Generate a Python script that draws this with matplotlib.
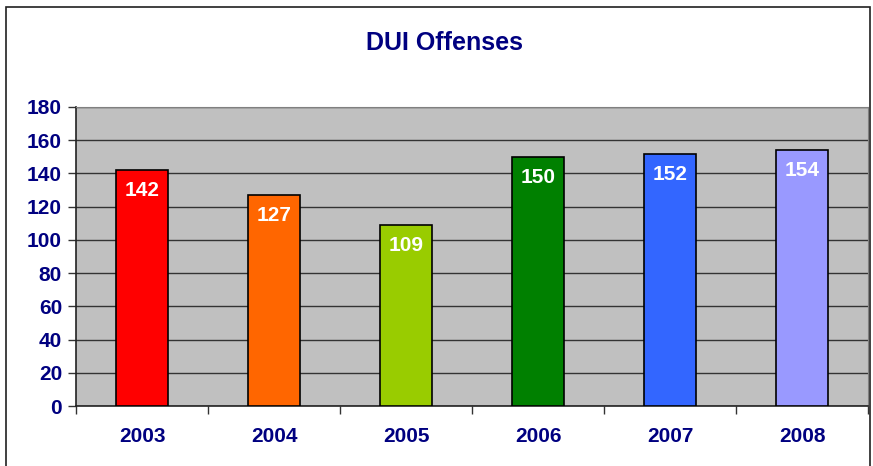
import matplotlib
matplotlib.use("Agg")
import matplotlib.pyplot as plt
from matplotlib.patches import Rectangle

years = ["2003", "2004", "2005", "2006", "2007", "2008"]
offenses = [142, 127, 109, 150, 152, 154]
colors = ["#FF0000", "#FF6600", "#99CC00", "#008000", "#3366FF", "#9999FF"]
yticks = [0, 20, 40, 60, 80, 100, 120, 140, 160, 180]

W, H = 873, 466
fig = plt.figure(figsize=(W / 100, H / 100), dpi=100)
fig.patch.set_facecolor("white")
plt.rcParams["font.family"] = ["Liberation Sans", "DejaVu Sans"]

# outer chart border
fig.add_artist(Rectangle((6 / W, -0.1), (870 - 6) / W, 1.1 - 7 / H,
                         transform=fig.transFigure, fill=False,
                         edgecolor="#202020", linewidth=1.2))

left, right, top, bottom = 76, 868, 107, 406
ax = fig.add_axes([left / W, 1 - bottom / H, (right - left) / W, (bottom - top) / H])
ax.set_facecolor("#C0C0C0")

x = list(range(len(years)))
ax.bar(x, offenses, width=0.4, color=colors, edgecolor="black", linewidth=1.2, zorder=3)
for xi, v in zip(x, offenses):
    ax.text(xi, v - 12.5, str(v), ha="center", va="center", color="white",
            fontsize=15, fontweight="bold", zorder=4)

ax.set_xlim(-0.5, len(years) - 0.5)
ax.set_ylim(0, 180)
ax.set_yticks(yticks)
ax.set_yticklabels([str(t) for t in yticks])
ax.yaxis.grid(True, color="#333333", linewidth=1.0, zorder=1)
ax.set_axisbelow(True)

ax.set_xticks([i - 0.5 for i in range(len(years) + 1)], minor=False)
ax.set_xticklabels([])
ax.set_xticks(x, minor=True)
ax.set_xticklabels(years, minor=True)
ax.tick_params(axis="x", which="major", direction="out", length=6, width=1, color="#333333")
ax.tick_params(axis="x", which="minor", length=0, pad=15,
               labelsize=15, labelcolor="#000080")
ax.tick_params(axis="y", direction="out", length=6, width=1, color="#333333",
               labelsize=15, labelcolor="#000080", pad=4)
for lab in ax.get_yticklabels() + ax.get_xticklabels(minor=True):
    lab.set_fontweight("bold")

ax.spines["left"].set_color("#222222")
ax.spines["bottom"].set_color("#222222")
ax.spines["left"].set_linewidth(1.2)
ax.spines["bottom"].set_linewidth(1.2)
ax.spines["top"].set_color("#808080")
ax.spines["right"].set_color("#808080")

fig.text(444 / W, 1 - 43 / H, "DUI Offenses", ha="center", va="center",
         fontsize=18, fontweight="bold", color="#000080")

fig.savefig("out.png", dpi=100)
